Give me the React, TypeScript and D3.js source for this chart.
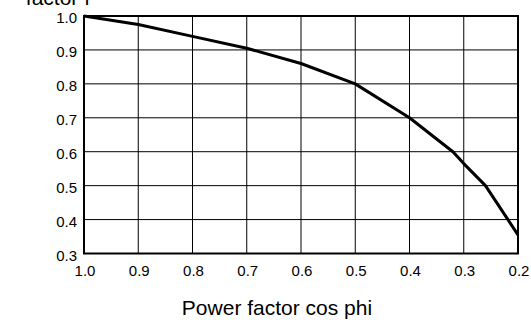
import React from "react";
import * as d3 from "d3";

// cos phi values (x) and reduction factor f (y)
const cosPhi = [1.0, 0.9, 0.8, 0.7, 0.6, 0.5, 0.4, 0.32, 0.3, 0.26, 0.2];
const factorF = [1.0, 0.975, 0.94, 0.905, 0.86, 0.8, 0.7, 0.6, 0.565, 0.5, 0.355];

const xTicks = [1.0, 0.9, 0.8, 0.7, 0.6, 0.5, 0.4, 0.3, 0.2];
const yTicks = [0.3, 0.4, 0.5, 0.6, 0.7, 0.8, 0.9, 1.0];

const width = 531;
const height = 320;
const margin = { top: 16, right: 13, bottom: 66.5, left: 84 };

const font = "'Liberation Sans', Arial, sans-serif";

export default function App() {
  const x = d3
    .scaleLinear()
    .domain([1.0, 0.2])
    .range([margin.left, width - margin.right]);
  const y = d3
    .scaleLinear()
    .domain([0.3, 1.0])
    .range([height - margin.bottom, margin.top]);

  const points: [number, number][] = cosPhi.map((c, i) => [c, factorF[i]]);
  const line = d3
    .line<[number, number]>()
    .x((d) => x(d[0]))
    .y((d) => y(d[1]));

  const [x0, x1] = x.range();
  const [y0, y1] = y.range();

  return (
    <svg
      width={width}
      height={height}
      style={{ position: "absolute", left: 0, top: 0, display: "block", background: "#fff" }}
    >
      {/* grid */}
      <g stroke="#000" strokeWidth={1}>
        {xTicks.map((t) => (
          <line key={"gx" + t} x1={x(t)} x2={x(t)} y1={y0} y2={y1} />
        ))}
        {yTicks.map((t) => (
          <line key={"gy" + t} x1={x0} x2={x1} y1={y(t)} y2={y(t)} />
        ))}
      </g>
      <rect
        x={x0}
        y={y1}
        width={x1 - x0}
        height={y0 - y1}
        fill="none"
        stroke="#000"
        strokeWidth={2}
      />

      {/* curve */}
      <path
        d={line(points) || ""}
        fill="none"
        stroke="#000"
        strokeWidth={3}
        strokeLinejoin="round"
      />

      {/* y tick labels */}
      <g fontFamily={font} fontSize={15} fill="#000" textAnchor="end">
        {yTicks.map((t) => (
          <text key={"ly" + t} x={x0 - 7} y={y(t) + 2} dy="0.35em">
            {t.toFixed(1)}
          </text>
        ))}
      </g>

      {/* x tick labels */}
      <g fontFamily={font} fontSize={15} fill="#000" textAnchor="middle">
        {xTicks.map((t) => (
          <text key={"lx" + t} x={x(t) + 1} y={y0 + 22}>
            {t.toFixed(1)}
          </text>
        ))}
      </g>

      <text x={90} y={5} fontFamily={font} fontSize={21} textAnchor="end">
        factor f
      </text>
      <text x={277} y={315} fontFamily={font} fontSize={21} textAnchor="middle">
        Power factor cos phi
      </text>
    </svg>
  );
}
